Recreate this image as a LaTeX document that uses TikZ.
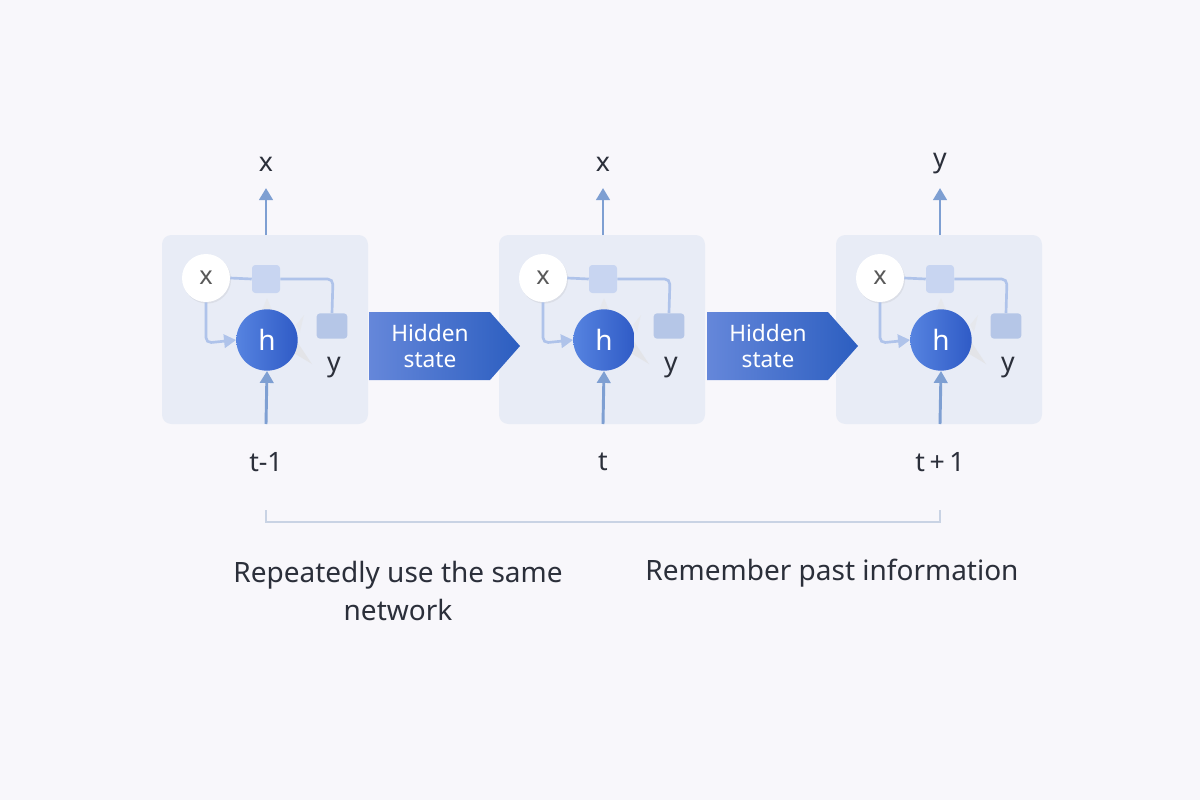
\documentclass[tikz,border=0pt]{standalone}
\usepackage{fontspec}
\setmainfont{Noto Sans}
\usetikzlibrary{arrows.meta,shadows,fadings}
\definecolor{bg}{HTML}{F8F7FB}
\definecolor{cellbg}{HTML}{E8ECF6}
\definecolor{wire}{HTML}{AFC3EA}
\definecolor{sq}{HTML}{C8D5F1}
\definecolor{sqb}{HTML}{B5C6E7}
\definecolor{upar}{HTML}{7E9FD2}
\definecolor{hA}{HTML}{5683E0}
\definecolor{hB}{HTML}{2F5BC6}
\definecolor{txt}{HTML}{2B2F3A}
\definecolor{brk}{HTML}{C9D3E4}
\definecolor{hsA}{HTML}{6587DA}
\definecolor{hsB}{HTML}{2C5EC0}
\tikzset{
  cellbox/.style={fill=cellbg,rounded corners=7pt},
  xcirc/.style={circle,fill=white,minimum size=36pt,inner sep=0pt,font=\fontsize{19}{19}\selectfont,text=black!65,drop shadow={shadow xshift=0.8pt,shadow yshift=-1.2pt,opacity=0.12}},
  hcirc/.style={circle,minimum size=46pt,inner sep=0pt,shade,shading angle=135,left color=hA,right color=hB,text=white,font=\fontsize{21}{21}\selectfont},
  sqbox/.style={fill=sq,rounded corners=2.5pt,minimum width=21pt,minimum height=21pt,inner sep=0pt},
  sqbox2/.style={fill=sqb,rounded corners=2.5pt,minimum width=23pt,minimum height=19pt,inner sep=0pt},
  wireln/.style={draw=wire,line width=2pt},
  wirearr/.style={draw=wire,line width=2pt,-{Triangle[length=9pt,width=10pt]}},
  uparr/.style={draw=upar,line width=2.2pt,-{Triangle[length=9pt,width=10pt]}},
  lbl/.style={text=txt,font=\fontsize{20}{20}\selectfont},
  hstate/.style={text=white,font=\fontsize{17}{19.5}\selectfont,align=center},
  bigtxt/.style={text=txt,font=\fontsize{21}{28}\selectfont,align=center},
}
\begin{document}
\begin{tikzpicture}[x=0.75pt,y=-0.75pt]
\useasboundingbox (0,0) rectangle (1200,800);
\fill[bg] (0,0) rectangle (1200,800);

\foreach \i/\ox/\top/\bot in {1/0/x/t-1,2/337/x/t,3/674/y/t\,+\,1}{
  \begin{scope}[xshift=\ox*0.75pt]
  \fill[cellbox] (162,235) rectangle (368,424);
  \node[xcirc] (xc\i) at (206,278) {x};
  \node[sqbox] (s\i) at (266,279) {};
  \node[sqbox2] (r\i) at (332,326) {};
  % faint tails
  \fill[black!12,opacity=0.6] (292,352) -- (312,364) -- (296,340) -- cycle;
  \fill[black!10,opacity=0.5] (262,310) -- (267,298) -- (272,310) -- cycle;
  \fill[black!10,opacity=0.5] (296,325) -- (304,315) -- (300,332) -- cycle;
  \node[hcirc] (h\i) at (267,340) {h};
  \draw[wireln] (xc\i.east) -- (s\i.west);
  \draw[wireln,rounded corners=4pt] (s\i.east) -- (333,279) -- (r\i.north);
  \draw[wirearr,rounded corners=4pt] (xc\i.south) -- (206,343) -- (h\i.west);
  \coordinate (bt\i) at (266,424);
  \coordinate (tp\i) at (266,235);
  \node[lbl] (top\i) at (266,164) {\top};
  \node[lbl] (bl\i) at (266,462) {\bot};
  \node[lbl] (yl\i) at (334,368) {y};
  \draw[uparr] (tp\i) -- (266,188);
  \draw[uparr] (bt\i) -- (h\i.south);
  \end{scope}
}

% hidden state arrows
\foreach \j/\ox in {1/0,2/338}{
  \begin{scope}[xshift=\ox*0.75pt]
  \shade[left color=hsA,right color=hsB] (369,312) -- (490,312) -- (520,346) -- (490,380) -- (369,380) -- cycle;
  \node[hstate] (hs\j) at (430,346) {Hidden\\state};
  \end{scope}
}

% bracket
\coordinate (b1) at (266,510);
\coordinate (b2) at (940,510);
\draw[brk,line width=1.3pt] (b1) -- (266,522) -- (940,522) -- (b2);

\node[bigtxt] (t1) at (398,591) {Repeatedly use the same\\network};
\node[bigtxt] (t2) at (832,573) {Remember past information};
\end{tikzpicture}
\end{document}
